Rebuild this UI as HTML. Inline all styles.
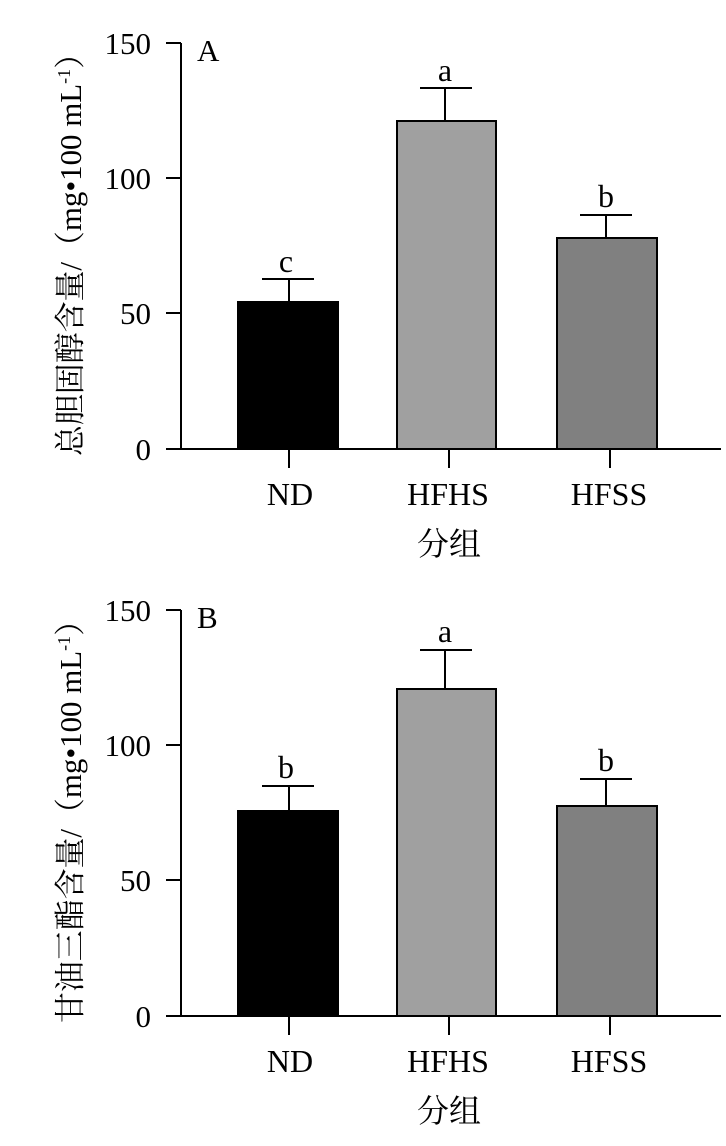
<!DOCTYPE html>
<html><head><meta charset="utf-8"><style>
body{margin:0;background:#fff}
svg text{font-family:"Liberation Serif","Noto Serif CJK SC",serif;fill:#000}
</style></head><body>
<svg width="726" height="1141" xmlns="http://www.w3.org/2000/svg">
<defs>
<g id="axes">
<line x1="181" y1="43" x2="181" y2="449" stroke="#000" stroke-width="2"/>
<line x1="166" y1="449" x2="721" y2="449" stroke="#000" stroke-width="2"/>
<line x1="166" y1="43" x2="181" y2="43" stroke="#000" stroke-width="2"/>
<line x1="166" y1="178" x2="181" y2="178" stroke="#000" stroke-width="2"/>
<line x1="166" y1="313" x2="181" y2="313" stroke="#000" stroke-width="2"/>
<line x1="289" y1="449" x2="289" y2="468" stroke="#000" stroke-width="2"/>
<line x1="449" y1="449" x2="449" y2="468" stroke="#000" stroke-width="2"/>
<line x1="610" y1="449" x2="610" y2="468" stroke="#000" stroke-width="2"/>
<g font-size="31" text-anchor="end">
<text x="151" y="54">150</text><text x="151" y="189">100</text>
<text x="151" y="324">50</text><text x="151" y="460">0</text></g>
<g font-size="32" text-anchor="middle">
<text x="290" y="505">ND</text><text x="448" y="505">HFHS</text><text x="609" y="505">HFSS</text>
<text x="449" y="555" font-family="'Noto Serif CJK SC',serif">分组</text></g>
</g>
</defs>
<!-- Panel A -->
<use href="#axes"/>
<text x="197" y="61" font-size="31">A</text>
<text transform="translate(81,247) rotate(-90)" font-size="31" text-anchor="middle" textLength="418" lengthAdjust="spacingAndGlyphs">总胆固醇含量/（mg•100 mL<tspan font-size="18" dy="-11">-1</tspan><tspan dy="11">）</tspan></text>
<g stroke="#000" stroke-width="2">
<line x1="289" y1="279" x2="289" y2="302"/><line x1="262" y1="279" x2="314" y2="279"/>
<rect x="238" y="302" width="100" height="147" fill="#000"/>
<line x1="445" y1="88" x2="445" y2="121"/><line x1="420" y1="88" x2="472" y2="88"/>
<rect x="397" y="121" width="99" height="328" fill="#a0a0a0"/>
<line x1="606" y1="215" x2="606" y2="238"/><line x1="580" y1="215" x2="632" y2="215"/>
<rect x="557" y="238" width="100" height="211" fill="#808080"/>
</g>
<g font-size="32" text-anchor="middle">
<text x="286" y="272">c</text><text x="445" y="81">a</text><text x="606" y="207">b</text></g>
<!-- Panel B -->
<g transform="translate(0,567)"><use href="#axes"/></g>
<text x="197" y="628" font-size="31">B</text>
<text transform="translate(81,814) rotate(-90)" font-size="31" text-anchor="middle" textLength="418" lengthAdjust="spacingAndGlyphs">甘油三酯含量/（mg•100 mL<tspan font-size="18" dy="-11">-1</tspan><tspan dy="11">）</tspan></text>
<g stroke="#000" stroke-width="2">
<line x1="289" y1="786" x2="289" y2="811"/><line x1="262" y1="786" x2="314" y2="786"/>
<rect x="238" y="811" width="100" height="205" fill="#000"/>
<line x1="445" y1="650" x2="445" y2="689"/><line x1="420" y1="650" x2="472" y2="650"/>
<rect x="397" y="689" width="99" height="327" fill="#a0a0a0"/>
<line x1="606" y1="779" x2="606" y2="806"/><line x1="580" y1="779" x2="632" y2="779"/>
<rect x="557" y="806" width="100" height="210" fill="#808080"/>
</g>
<g font-size="32" text-anchor="middle">
<text x="286" y="778">b</text><text x="445" y="642">a</text><text x="606" y="771">b</text></g>
</svg>
</body></html>
